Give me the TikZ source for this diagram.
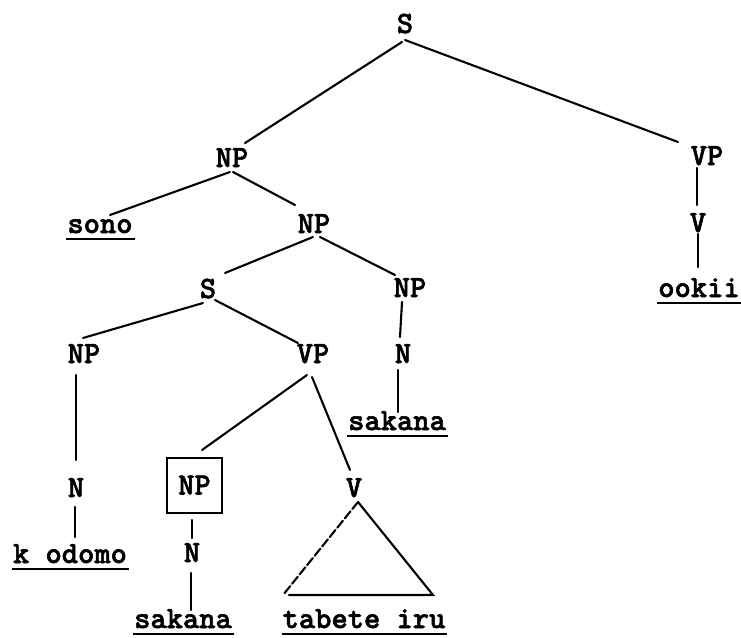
\documentclass[tikz,border=0pt]{standalone}
\usepackage{fontspec}
\newfontfamily\twfont[FakeBold=1.8]{lmmonolt10-bold.otf}
\usetikzlibrary{calc}
\tikzset{
  lbl/.style={font=\fontsize{31}{31}\selectfont\twfont, inner sep=0pt, outer sep=0pt,
              text height=18pt, text depth=0pt, anchor=base},
  br/.style={line width=2.1pt, line cap=round},
  ul/.style={line width=2pt},
  boxed/.style={draw, line width=2.6pt, minimum width=55pt, minimum height=55pt, anchor=center},
}
\begin{document}
\begin{tikzpicture}[x=1pt,y=-1pt]
\fill[white] (0,0) rectangle (741,637);
\useasboundingbox (0,0) rectangle (741,637);

% category labels
\node[lbl] (S0)  at (405,33)  {S};
\node[lbl] (NP1) at (232,167) {NP};
\node[lbl] (VP1) at (707,165) {VP};
\node[lbl] (V1)  at (698,232) {V};
\node[lbl] (NP2) at (314,233) {NP};
\node[lbl] (S2)  at (208,298) {S};
\node[lbl] (NP3) at (410,297) {NP};
\node[lbl] (NPk) at (84,363)  {NP};
\node[lbl] (VP2) at (313,363) {VP};
\node[lbl] (N3)  at (403,363) {N};
\node[lbl] (Nk)  at (76,497)  {N};
\node[lbl,boxed] (NPb) at (194.5,485.5) {NP};
\node[lbl] (V2)  at (354,497) {V};
\node[lbl] (Nb)  at (192,562) {N};

% words
\node[lbl] (ookii) at (699,297) {ookii};
\node[lbl] (sono)  at (100,233) {sono};
\node[lbl] (sak1)  at (397,430) {sakana};
\node[lbl,anchor=base west] (kod) at (13,563) {k odomo};
\node[lbl] (sak2)  at (183,628) {sakana};
\node[lbl] (tab)   at (364,628) {tabete iru};

% underlines
\foreach \w in {ookii,sono,sak1,kod,sak2,tab}
  \draw[ul] ($(\w.base west)+(-1,6)$) -- ($(\w.base east)+(2,6)$);

% branches
\draw[br] ($(S0.base)+(-3,9)$)   -- ($(NP1.base)+(13,-24)$);
\draw[br] ($(S0.base)+(0,7)$)    -- ($(VP1.base)+(-29,-23)$);
\draw[br] ($(VP1.base)+(-10,3)$) -- ($(V1.base)+(-1,-27)$);
\draw[br] ($(V1.base)+(0,2)$)    -- ($(ookii.base)+(-1,-30)$);
\draw[br] ($(NP1.base)+(-2,5)$)  -- ($(sono.base)+(10,-18)$);
\draw[br] ($(NP1.base)+(1,5)$)   -- ($(NP2.base)+(-19,-28)$);
\draw[br] ($(NP2.base)+(-1,4)$)  -- ($(S2.base)+(17,-25)$);
\draw[br] ($(NP2.base)+(6,4)$)   -- ($(NP3.base)+(-15,-22)$);
\draw[br] ($(NP3.base)+(-8,5)$)  -- ($(N3.base)+(-3,-26)$);
\draw[br] ($(N3.base)+(-5,7)$)   -- ($(sak1.base)+(1,-18)$);
\draw[br] ($(S2.base)+(-5,5)$)   -- ($(NPk.base)+(-1,-25)$);
\draw[br] ($(S2.base)+(7,2)$)    -- ($(VP2.base)+(-15,-20)$);
\draw[br] ($(NPk.base)+(-8,12)$) -- ($(Nk.base)+(0,-37)$);
\draw[br] ($(Nk.base)+(-1,10)$)  -- ($(kod.base west)+(62,-26)$);
\draw[br] ($(VP2.base)+(-6,12)$) -- ($(NPb.north)+(7.5,-8)$);
\draw[br] ($(VP2.base)+(-1,14)$) -- ($(V2.base)+(-4,-27)$);
\draw[br] ($(NPb.south)+(-2.5,7)$) -- ($(Nb.base)+(0,-24)$);
\draw[br] ($(Nb.base)+(-1,11)$)  -- ($(sak2.base)+(8,-18)$);

% triangle under V
\coordinate (tA) at ($(V2.base)+(4,5)$);
\coordinate (tL) at ($(tab.base)+(-81,-33)$);
\coordinate (tR) at ($(tab.base)+(69,-33)$);
\draw[br, dash pattern=on 9pt off 3pt] (tA) -- (tL);
\draw[br] (tA) -- (tR) -- ($(tL)+(6,0)$);
\end{tikzpicture}
\end{document}
